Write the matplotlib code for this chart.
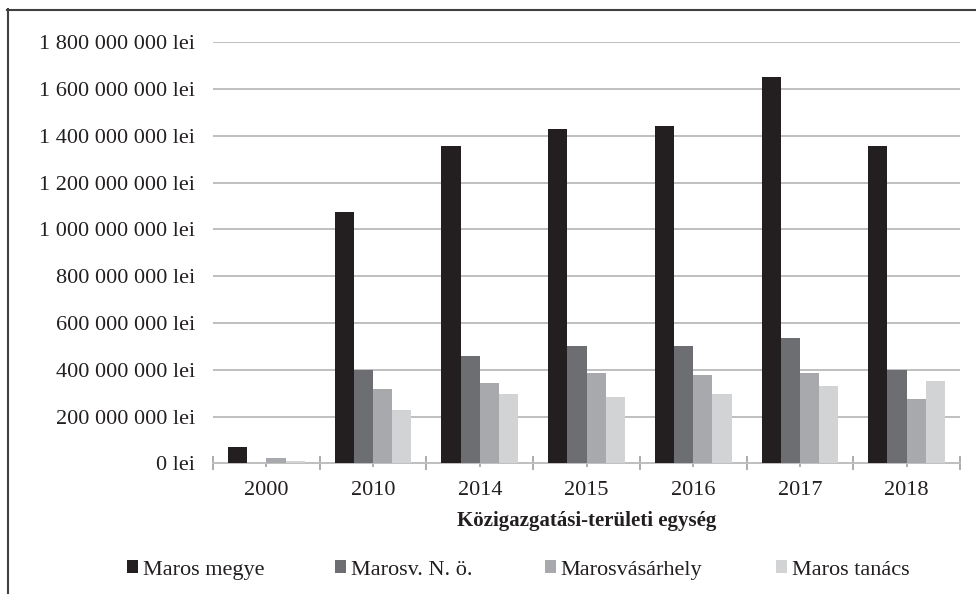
import matplotlib
matplotlib.use("Agg")
import matplotlib.pyplot as plt
import numpy as np
from matplotlib.ticker import FuncFormatter, FixedLocator
from matplotlib.lines import Line2D

years = ["2000", "2010", "2014", "2015", "2016", "2017", "2018"]
series_names = ["Maros megye", "Marosv. N. ö.", "Marosvásárhely", "Maros tanács"]
maros_megye = [68e6, 1073e6, 1355e6, 1430e6, 1442e6, 1651e6, 1355e6]
marosv_no = [0, 400e6, 457e6, 502e6, 502e6, 536e6, 397e6]
marosvasarhely = [21e6, 318e6, 343e6, 387e6, 376e6, 388e6, 275e6]
maros_tanacs = [11e6, 228e6, 297e6, 285e6, 297e6, 331e6, 352e6]
colors = ["#231f20", "#6d6e71", "#a7a9ac", "#d1d3d4"]

plt.rcParams['font.family'] = ['Liberation Serif', 'DejaVu Serif']

W, H = 976, 594
fig = plt.figure(figsize=(W / 100, H / 100), dpi=100)
ax = fig.add_axes([213 / W, 1 - 463.3 / H, (960 - 213) / W, (463.3 - 42) / H])

data = [maros_megye, marosv_no, marosvasarhely, maros_tanacs]
x = np.arange(len(years))
bw = 0.18
bars = []
for i, (vals, c) in enumerate(zip(data, colors)):
    b = ax.bar(x + (i - 1.5) * bw, vals, width=bw, color=c, edgecolor='none',
               label=series_names[i], zorder=3)
    bars.append(b)

ax.set_xlim(-0.5, len(years) - 0.5)
ax.set_ylim(0, 1.8e9 * 1.0005)
ax.set_yticks(np.arange(0, 1.8e9 + 1, 2e8))


def fmt(v, pos):
    n = int(round(v))
    s = f"{n:,}".replace(",", " ")
    return f"{s} lei"


ax.yaxis.set_major_formatter(FuncFormatter(fmt))
ax.grid(axis='y', color='#bfbfbf', linewidth=1.4, zorder=0)
ax.tick_params(axis='y', length=0, pad=13, labelsize=16, labelcolor='#231f20')

ax.set_xticks(x)
ax.set_xticklabels(years)
ax.xaxis.set_minor_locator(FixedLocator(np.arange(-0.5, len(years), 1.0)))
ax.tick_params(axis='x', which='major', length=3, width=1.2, color='#a0a0a0',
               direction='out', pad=10, labelsize=16, labelcolor='#231f20')
ax.tick_params(axis='x', which='minor', length=10, width=1.2, color='#a0a0a0',
               direction='inout')

for s in ['top', 'right', 'left']:
    ax.spines[s].set_visible(False)
ax.spines['bottom'].set_color('#bfbfbf')
ax.spines['bottom'].set_linewidth(1.4)

fig.text(587 / W, 1 - 521 / H, "Közigazgatási-területi egység", ha='center', va='center',
         fontsize=15, fontweight='bold', color='#231f20')

leg_x = [127, 335, 545, 776]
for b, name, lx in zip(bars, series_names, leg_x):
    fig.legend([b], [name], loc='center left', bbox_to_anchor=(lx / W, 1 - 570 / H),
               frameon=False, prop={'family': ['Liberation Serif', 'DejaVu Serif'], 'size': 16},
               handlelength=0.5, handleheight=0.5,
               handletextpad=0.2, borderpad=0, borderaxespad=0, labelcolor='#231f20')

# partial frame: top and left edges only
fig.add_artist(Line2D([7 / W, 1.0], [1 - 9.5 / H, 1 - 9.5 / H], transform=fig.transFigure,
                      color='#404040', linewidth=1.5))
fig.add_artist(Line2D([7.5 / W, 7.5 / W], [0.0, 1 - 9 / H], transform=fig.transFigure,
                      color='#404040', linewidth=1.5))

fig.savefig("out.png", dpi=100)
